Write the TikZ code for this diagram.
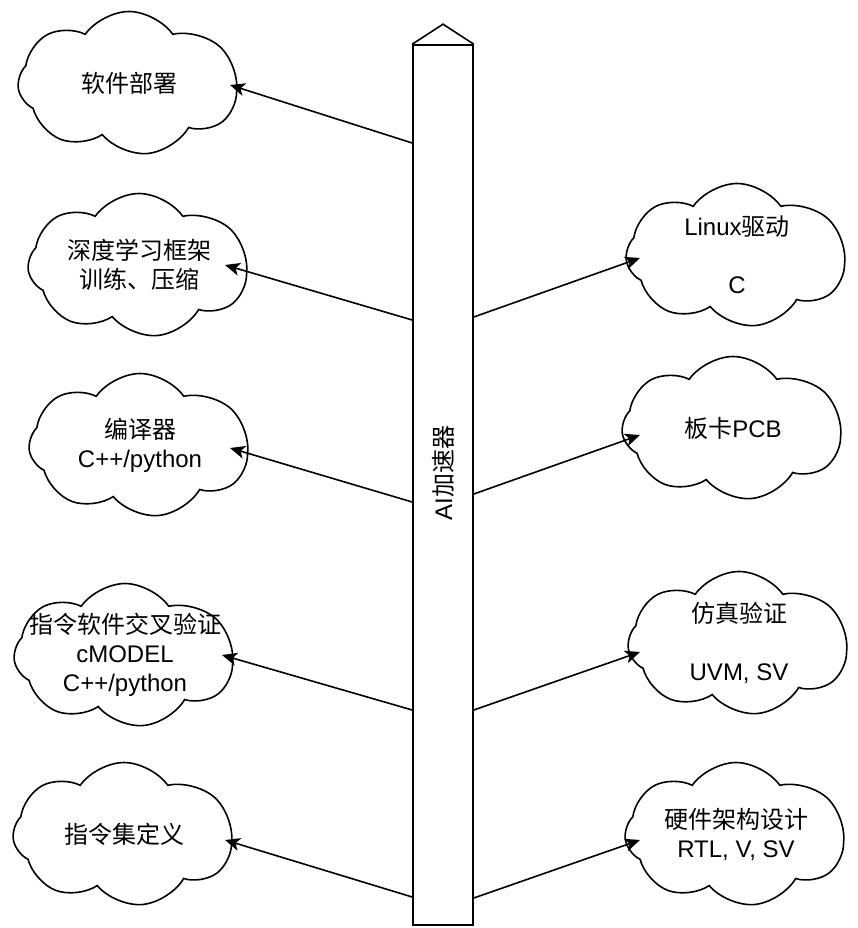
\documentclass[tikz,border=0pt]{standalone}
\usepackage{fontspec}
\setmainfont{Liberation Sans}
\newfontfamily\cjk{Noto Sans CJK SC}
\newcommand{\zh}[1]{{\cjk #1}}
\usetikzlibrary{
  arrows.meta,
  shapes.symbols
}
\tikzset{
  puff/.style={cloud, draw, cloud puffs=7.6, cloud puff arc=110, cloud ignores aspect,
    minimum width=222pt, minimum height=143pt, line width=1.6pt},
  link/.style={-{Stealth[length=15pt, width=13pt, inset=4pt]}, line width=1.6pt},
  every label/.style={align=center},
}
\begin{document}
\begin{tikzpicture}[x=1pt, y=-1pt]
      \fontsize{24}{29}\selectfont
      \useasboundingbox (0,0) rectangle (858,928);
      \node (accel) [draw, line width=1.6pt, minimum width=60pt, minimum height=880pt] at (443,485) {};
      \draw[line width=1.6pt, line join=miter] (accel.north west) -- ([shift={(0,-20)}]accel.north) -- (accel.north east);
      \node (accellabel) [rotate=90] at (443,473) {AI\zh{加速器}};

      \node (sw) [puff, label={center:{\zh{软件部署}}}] at (129,83) {};
      \node (dl) [puff, label={center:{\zh{深度学习框架}\\\zh{训练、压缩}}}] at (139,265) {};
      \node (cc) [puff, label={center:{\zh{编译器}\\C++/python}}] at (140,445) {};
      \node (cm) [puff, label={center:{\zh{指令软件交叉验证}\\cMODEL\\C++/python}}] at (125,655) {};
      \node (isa) [puff, label={center:{\zh{指令集定义}}}] at (124,834) {};

      \node (drv) [puff, label={center:{Linux\zh{驱动}\\[29pt]C}}] at (737,255) {};
      \node (pcb) [puff, label={center:{\zh{板卡}PCB}}] at (733,428) {};
      \node (sim) [puff, label={center:{\zh{仿真验证}\\[29pt]UVM, SV}}] at (739,643) {};
      \node (hw) [puff, label={center:{\zh{硬件架构设计}\\RTL, V, SV}}] at (736,834) {};

      \draw[link] ([shift={(0,-342)}]accel.west) -- ([shift={(101,2)}]sw.center);
      \draw[link] ([shift={(0,-165)}]accel.west) -- ([shift={(86,0)}]dl.center);
      \draw[link] ([shift={(0,17)}]accel.west) -- ([shift={(90,3)}]cc.center);
      \draw[link] ([shift={(0,225)}]accel.west) -- ([shift={(97,0)}]cm.center);
      \draw[link] ([shift={(0,412)}]accel.west) -- ([shift={(101,6)}]isa.center);

      \draw[link] ([shift={(0,-168)}]accel.east) -- ([shift={(-97,3)}]drv.center);
      \draw[link] ([shift={(0,9)}]accel.east) -- ([shift={(-93,7)}]pcb.center);
      \draw[link] ([shift={(0,225)}]accel.east) -- ([shift={(-99,9)}]sim.center);
      \draw[link] ([shift={(0,413)}]accel.east) -- ([shift={(-96,6)}]hw.center);
    \end{tikzpicture}
\end{document}
